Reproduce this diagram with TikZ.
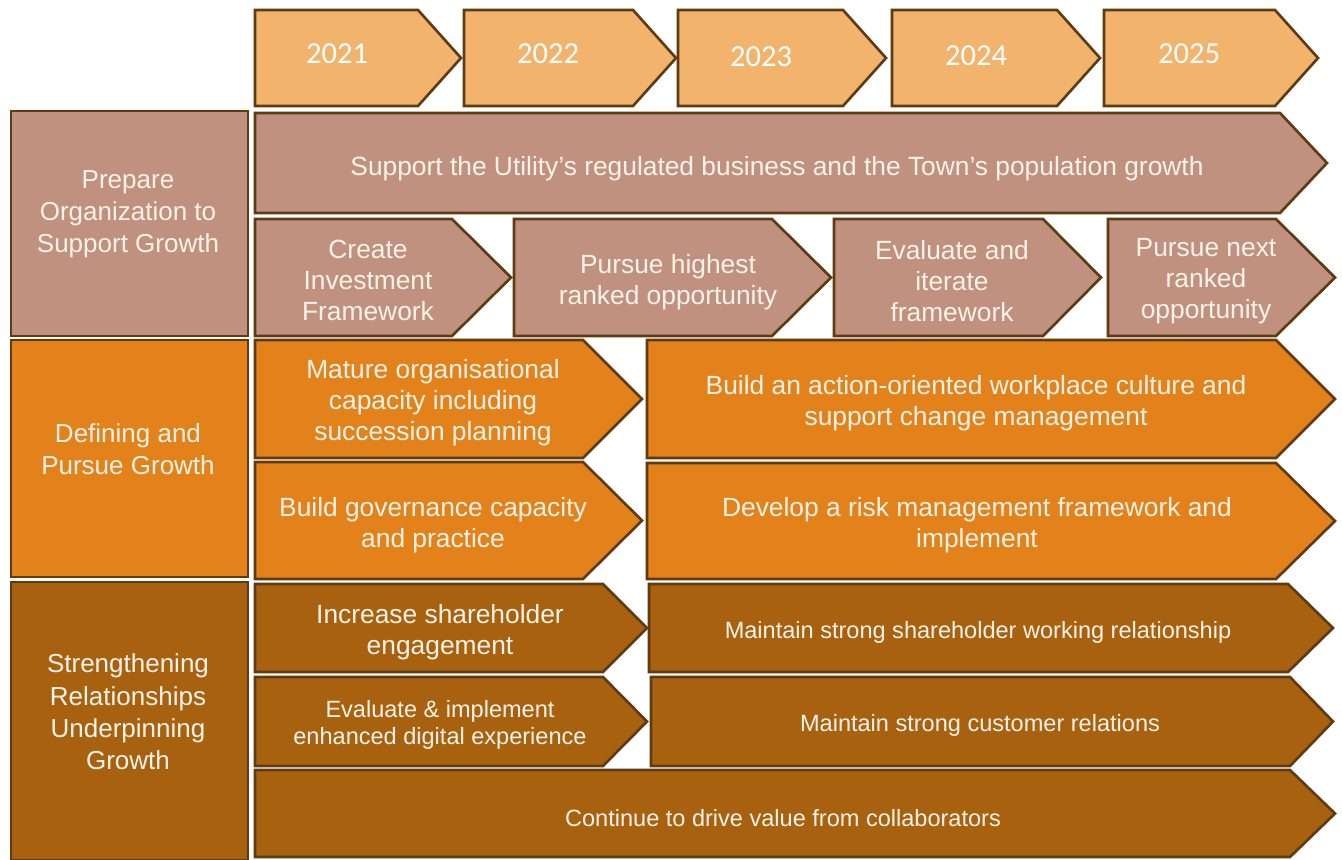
\documentclass[tikz,border=0pt]{standalone}
\usepackage{fontspec}
\setmainfont{Liberation Sans}
\newfontfamily\Calibri{Carlito}
\definecolor{brun}{HTML}{5E3B12}
\definecolor{orangeclair}{HTML}{F2B36C}
\definecolor{rose}{HTML}{C0917F}
\definecolor{orangevif}{HTML}{E3821A}
\definecolor{brunclair}{HTML}{A8610F}
\definecolor{creme}{HTML}{FBF3EA}

\begin{document}
\begin{tikzpicture}[x=0.02cm,y=-0.02cm]
% Styles (MODIFIABLES)
\tikzstyle{bord}=[draw=brun,line width=1.5pt,line join=miter]
\tikzstyle{annee}=[bord,fill=orangeclair]
\tikzstyle{rangA}=[bord,fill=rose]
\tikzstyle{rangB}=[bord,fill=orangevif]
\tikzstyle{rangC}=[bord,fill=brunclair]
\tikzstyle{texte}=[text=creme,align=center,inner sep=0pt,yshift=-1.6pt,font=\fontsize{15}{17.6}\selectfont]
\tikzstyle{petit}=[text=creme,align=center,inner sep=0pt,yshift=-1.4pt,font=\fontsize{13.4}{15.4}\selectfont]
\tikzstyle{titre}=[text=creme,align=center,inner sep=0pt,yshift=-1.2pt,font=\fontsize{14.8}{18.4}\selectfont]
\tikzstyle{chiffre}=[text=white,inner sep=0pt,font=\Calibri\fontsize{17.4}{20}\selectfont]
% Fleche : style, gauche, epaule, pointe, haut, bas
\def\Fleche#1#2#3#4#5#6{\draw[#1] (#2,#5) -- (#3,#5) -- (#4,{(#5+#6)/2}) -- (#3,#6) -- (#2,#6) -- cycle;}
\useasboundingbox (0,0) rectangle (1342,859);
% Annees
\Fleche{annee}{255}{418}{461}{10}{106}
\Fleche{annee}{464}{633}{676}{10}{106}
\Fleche{annee}{678}{843}{886}{10}{106}
\Fleche{annee}{892}{1057}{1100}{10}{106}
\Fleche{annee}{1104}{1275}{1318}{10}{106}
\node[chiffre] (A21) at (337,54) {2021};
\node[chiffre] (A22) at (548,54) {2022};
\node[chiffre] (A23) at (761,57) {2023};
\node[chiffre] (A24) at (976,56) {2024};
\node[chiffre] (A25) at (1189,54) {2025};
% Rang 1 : Prepare
\draw[rangA] (11,111) rectangle (248,336);
\node[titre] (R1) at (128,212) {Prepare\\Organization to\\Support Growth};
\Fleche{rangA}{255}{1280}{1327}{113}{213}
\Fleche{rangA}{255}{452}{511}{219}{336}
\Fleche{rangA}{514}{772}{831}{219}{336}
\Fleche{rangA}{834}{1043}{1101}{219}{336}
\Fleche{rangA}{1108}{1276}{1335}{219}{336}
\node[texte] (R1a) at (777,166) {Support the Utility’s regulated business and the Town’s population growth};
\node[texte] (R1b) at (368,278) {Create\\Investment\\Framework};
\node[texte] (R1c) at (668,279) {Pursue highest\\ranked opportunity};
\node[texte] (R1d) at (952,278) {Evaluate and\\iterate\\framework};
\node[texte] (R1e) at (1206,278) {Pursue next\\ranked\\opportunity};
% Rang 2 : Defining
\draw[rangB] (11,340) rectangle (248,577);
\node[titre] (R2) at (128,447) {Defining and\\Pursue Growth};
\Fleche{rangB}{255}{583}{642}{340}{458}
\Fleche{rangB}{255}{583}{642}{462}{579}
\Fleche{rangB}{647}{1276}{1335}{340}{458}
\Fleche{rangB}{647}{1276}{1335}{463}{579}
\node[texte] (R2a) at (433,400) {Mature organisational\\capacity including\\succession planning};
\node[texte] (R2b) at (433,522) {Build governance capacity\\and practice};
\node[texte] (R2c) at (976,400) {Build an action-oriented workplace culture and\\support change management};
\node[texte] (R2d) at (977,522) {Develop a risk management framework and\\implement};
% Rang 3 : Strengthening
\draw[rangC] (11,582) rectangle (248,860);
\node[titre] (R3) at (128,710) {Strengthening\\Relationships\\Underpinning\\Growth};
\Fleche{rangC}{255}{603}{647}{584}{672}
\Fleche{rangC}{255}{603}{647}{677}{766}
\Fleche{rangC}{649}{1288}{1333}{584}{672}
\Fleche{rangC}{651}{1290}{1333}{677}{766}
\Fleche{rangC}{255}{1290}{1335}{770}{857}
\node[texte] (R3a) at (440,629) {Increase shareholder\\engagement};
\node[petit] (R3b) at (440,722) {Evaluate \& implement\\enhanced digital experience};
\node[petit] (R3c) at (978,630) {Maintain strong shareholder working relationship};
\node[petit] (R3d) at (980,723) {Maintain strong customer relations};
\node[petit] (R3e) at (783,816) {Continue to drive value from collaborators};
\end{tikzpicture}
\end{document}
